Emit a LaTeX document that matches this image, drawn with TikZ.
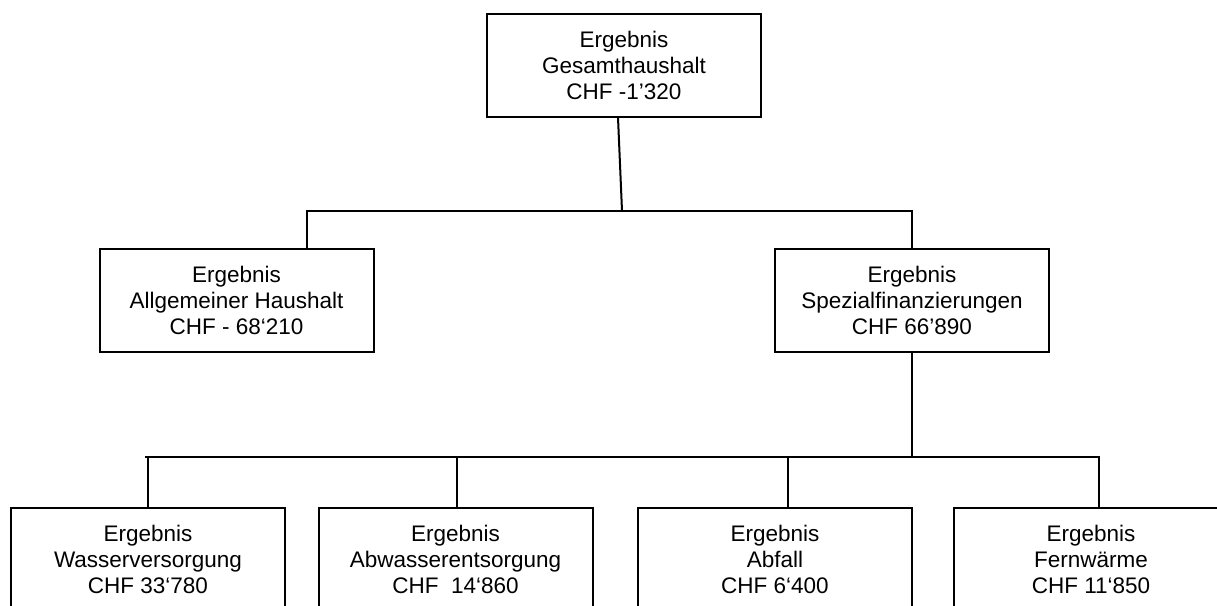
\documentclass[tikz,border=0pt]{standalone}
\usepackage{fontspec}
\setmainfont{Liberation Sans}
\begin{document}
\begin{tikzpicture}[x=1pt,y=-1pt,
  box/.style={draw, line width=2pt, minimum width=274pt, minimum height=103pt, inner sep=0pt, align=center, font=\fontsize{22.5}{26}\selectfont},
  conn/.style={line width=2pt}]
\useasboundingbox (0,0) rectangle (1217,605);
\fill[white] (0,0) rectangle (1217,605);
\clip (0,0) rectangle (1217,605);
\node[box] (top) at (624,65) {Ergebnis\\Gesamthaushalt\\CHF -1’320};
\node[box] (allg) at (236.5,300.5) {Ergebnis\\Allgemeiner Haushalt\\CHF - 68‘210};
\node[box] (spez) at (912,300.5) {Ergebnis\\Spezialfinanzierungen\\CHF 66’890};
\node[box] (wass) at (148,559.5) {Ergebnis\\Wasserversorgung\\CHF 33‘780};
\node[box] (abw) at (455.5,559.5) {Ergebnis\\Abwasserentsorgung\\CHF~~14‘860};
\node[box] (abf) at (775,559.5) {Ergebnis\\Abfall\\CHF 6‘400};
\node[box] (fern) at (1091,559.5) {Ergebnis\\Fernwärme\\CHF 11‘850};
% level 1
\coordinate (j1) at (622,211);
\coordinate (h1l) at (307,211);
\coordinate (h1r) at (912,211);
\draw[conn] ([xshift=-6pt]top.south) -- (j1);
\draw[conn] (h1l |- allg.north) -- (h1l) -- (h1r) -- (spez.north);
% level 2
\coordinate (j2) at (912,457);
\coordinate (bl) at (145,457);
\coordinate (br) at (1100,457);
\coordinate (b1) at (148,457);
\coordinate (b2) at (457,457);
\coordinate (b3) at (788,457);
\coordinate (b4) at (1099,457);
\draw[conn] (spez.south) -- (j2);
\draw[conn] (bl) -- (br);
\draw[conn] (b1) -- (b1 |- wass.north);
\draw[conn] (b2) -- (b2 |- abw.north);
\draw[conn] (b3) -- (b3 |- abf.north);
\draw[conn] (b4) -- (b4 |- fern.north);
\end{tikzpicture}
\end{document}
